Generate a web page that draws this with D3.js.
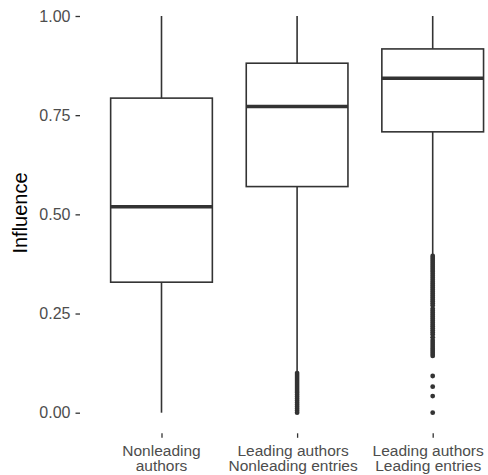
<!DOCTYPE html>
<html>
<head>
<meta charset="utf-8">
<script src="https://cdn.jsdelivr.net/npm/d3@7"></script>
<style>
  body { margin: 0; background: #fff; }
  svg { display: block; font-family: "Liberation Sans", Arial, Helvetica, sans-serif; }
</style>
</head>
<body>
<div id="corpo"></div>
<script>
// grupos e estatisticas
var categorias = [
    ["Nonleading", "authors"],
    ["Leading authors", "Nonleading entries"],
    ["Leading authors", "Leading entries"]
];
var bigodeInf = [0, 0.105, 0.40];
var q1 = [0.329, 0.570, 0.708];
var mediana = [0.519, 0.772, 0.843];
var q3 = [0.793, 0.881, 0.917];
var bigodeSup = [1, 1, 1];

var outliers = [
    [],
    [0.10, 0.095, 0.09, 0.085, 0.08, 0.075, 0.07, 0.065, 0.06, 0.055, 0.05, 0.045,
     0.04, 0.035, 0.03, 0.025, 0.02, 0.015, 0.01, 0.005, 0.0],
    [0.395, 0.39, 0.385, 0.38, 0.375, 0.37, 0.365, 0.36, 0.355, 0.35, 0.345, 0.34,
     0.335, 0.33, 0.325, 0.32, 0.315, 0.31, 0.305, 0.30, 0.295, 0.29, 0.285, 0.28,
     0.275, 0.27, 0.262, 0.257, 0.252, 0.247, 0.242, 0.237, 0.232, 0.227, 0.222,
     0.217, 0.212, 0.207, 0.202, 0.197, 0.19, 0.183, 0.178, 0.173, 0.168, 0.163,
     0.158, 0.153, 0.148, 0.143, 0.0925, 0.0655, 0.042, 0.0]
];
var yTicks = [0, 0.25, 0.5, 0.75, 1];

var width = 488, height = 475;
var corLinha = "#333333";
var corTexto = "#4d4d4d";
// os rotulos 2 e 3 aparecem um pouco a esquerda do tick no original
var deslocRotulo = [0, -4, -4.5];

var data = categorias.map(function(c, i){
    return {
        nome: c.join(" "), linhas: c,
        inf: bigodeInf[i], q1: q1[i], med: mediana[i], q3: q3[i], sup: bigodeSup[i],
        out: outliers[i]
    };
});

var x = d3.scalePoint()
    .domain(data.map(function(d){ return d.nome; }))
    .range([161.5, 432.7]);
var passo = x.step();
var larguraCaixa = passo * 0.75;

var y = d3.scaleLinear()
    .domain([0, 1])
    .range([412.7, 16]);

var svg = d3.select("#corpo").append("svg")
    .attr("width", width)
    .attr("height", height);

// eixo y
var eixoY = svg.append("g")
    .attr("transform", "translate(80,0)")
    .call(d3.axisLeft(y).tickValues(yTicks).tickFormat(d3.format(".2f")).tickSize(4.5).tickPadding(5));
eixoY.select(".domain").remove();
eixoY.selectAll(".tick line").attr("stroke", corLinha).attr("stroke-width", 1.3);
eixoY.selectAll(".tick text")
    .attr("fill", corTexto)
    .style("font-size", "16px");

// eixo x
var eixoX = svg.append("g")
    .attr("transform", "translate(0,433.3)")
    .call(d3.axisBottom(x).tickSize(4.5).tickFormat(""));
eixoX.select(".domain").remove();
eixoX.selectAll(".tick line").attr("stroke", corLinha).attr("stroke-width", 1.3);

var rotulos = svg.append("g");
data.forEach(function(d, i){
    d.linhas.forEach(function(l, k){
        rotulos.append("text")
            .attr("text-anchor", "middle")
            .attr("fill", corTexto)
            .style("font-size", "15.5px")
            .attr("x", x(d.nome) + deslocRotulo[i])
            .attr("y", 456 + k * 14.7)
            .text(l);
    });
});

// titulo do eixo y
svg.append("text")
    .attr("transform", "translate(26.7," + 213 + ") rotate(-90)")
    .attr("text-anchor", "middle")
    .attr("fill", "#000")
    .style("font-size", "20px")
    .text("Influence");

// caixas
var g = svg.selectAll(".box")
    .data(data)
    .enter().append("g")
    .attr("class", "box");

g.append("line")
    .attr("x1", function(d){ return x(d.nome); })
    .attr("x2", function(d){ return x(d.nome); })
    .attr("y1", function(d){ return y(d.q3); })
    .attr("y2", function(d){ return y(d.sup); })
    .attr("stroke", corLinha)
    .attr("stroke-width", 1.6);

g.append("line")
    .attr("x1", function(d){ return x(d.nome); })
    .attr("x2", function(d){ return x(d.nome); })
    .attr("y1", function(d){ return y(d.q1); })
    .attr("y2", function(d){ return y(d.inf); })
    .attr("stroke", corLinha)
    .attr("stroke-width", 1.6);

g.append("rect")
    .attr("x", function(d){ return x(d.nome) - larguraCaixa / 2; })
    .attr("width", larguraCaixa)
    .attr("y", function(d){ return y(d.q3); })
    .attr("height", function(d){ return y(d.q1) - y(d.q3); })
    .attr("fill", "#fff")
    .attr("stroke", corLinha)
    .attr("stroke-width", 1.6);

g.append("line")
    .attr("x1", function(d){ return x(d.nome) - larguraCaixa / 2; })
    .attr("x2", function(d){ return x(d.nome) + larguraCaixa / 2; })
    .attr("y1", function(d){ return y(d.med); })
    .attr("y2", function(d){ return y(d.med); })
    .attr("stroke", corLinha)
    .attr("stroke-width", 3.6);

g.selectAll(".out")
    .data(function(d){ return d.out.map(function(v){ return {nome: d.nome, v: v}; }); })
    .enter().append("circle")
    .attr("class", "out")
    .attr("cx", function(d){ return x(d.nome); })
    .attr("cy", function(d){ return y(d.v); })
    .attr("r", 2.4)
    .attr("fill", corLinha);
</script>
</body>
</html>
